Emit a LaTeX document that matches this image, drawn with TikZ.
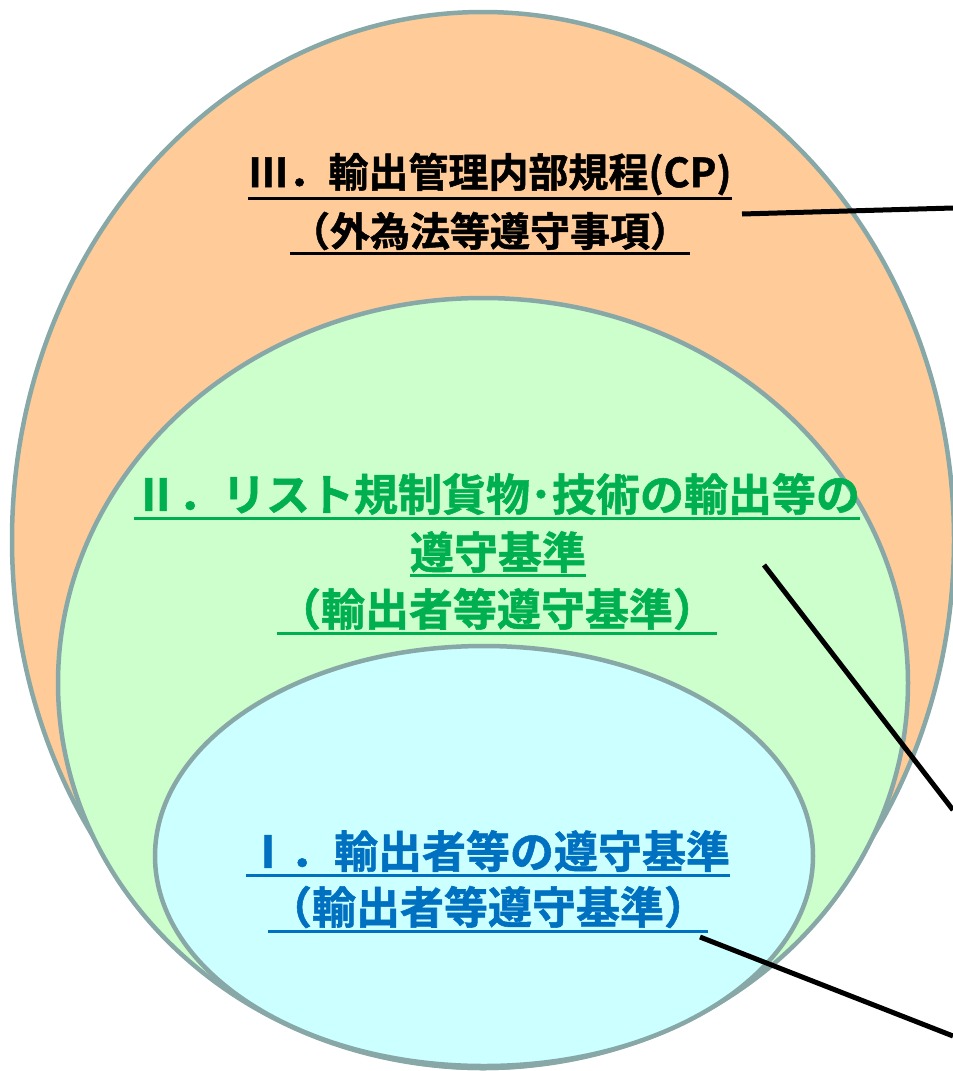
\documentclass[tikz,border=0pt]{standalone}
\usepackage{fontspec}
\newfontfamily\cjk[BoldFont={Noto Sans CJK JP Bold},BoldFeatures={FakeBold=1.2}]{Noto Sans CJK JP}
\definecolor{rim}{HTML}{88A8A8}
\definecolor{orangefill}{HTML}{FFCC99}
\definecolor{greenfill}{HTML}{CCFFCC}
\definecolor{bluefill}{HTML}{CCFFFF}
\definecolor{greentext}{HTML}{00B050}
\definecolor{bluetext}{HTML}{0070C0}
\begin{document}
\begin{tikzpicture}[x=1pt,y=-1pt,
  zone/.style={draw=rim,line width=4.5pt},
  label/.style={inner sep=0pt,font=\cjk\bfseries\fontsize{44}{44}\selectfont},
  blk/.style={font=\cjk\bfseries\fontsize{40}{40}\selectfont},
  uline/.style={line width=3pt},
  pointer/.style={draw=black,line width=5pt}]
\useasboundingbox (0,0) rectangle (953,1071);
% ellipses
\draw[zone,fill=orangefill] (483,540) ellipse [x radius=471,y radius=528];
\draw[zone,fill=greenfill] (483,683) ellipse [x radius=425,y radius=385];
\draw[zone,fill=bluefill] (484,856) ellipse [x radius=329,y radius=210];
% texts
\node[label,blk,text=black] (t3a) at (490,174) {Ⅲ．輸出管理内部規程(CP)};
\node[label,blk,text=black] (t3b) at (490,231) {（外為法等遵守事項）};
\node[label,text=greentext] (t2a) at (497,494) {Ⅱ．リスト規制貨物･技術の輸出等の};
\node[label,text=greentext] (t2b) at (498,552) {遵守基準};
\node[label,text=greentext] (t2c) at (497,609) {（輸出者等遵守基準）};
\node[label,text=bluetext] (t1a) at (488,851) {Ⅰ．輸出者等の遵守基準};
\node[label,text=bluetext] (t1b) at (488,907) {（輸出者等遵守基準）};
% underlines
\draw[uline,black] ([yshift=-3pt]t3a.south west) -- ([yshift=-3pt]t3a.south east);
\draw[uline,black] ([yshift=-3pt]t3b.south west) -- ([yshift=-3pt]t3b.south east);
\draw[uline,greentext] ([yshift=-3pt]t2a.south west) -- ([yshift=-3pt]t2a.south east);
\draw[uline,greentext] ([yshift=-3pt]t2b.south west) -- ([yshift=-3pt]t2b.south east);
\draw[uline,greentext] ([yshift=-3pt]t2c.south west) -- ([yshift=-3pt]t2c.south east);
\draw[uline,bluetext] ([yshift=-3pt]t1a.south west) -- ([yshift=-3pt]t1a.south east);
\draw[uline,bluetext] ([yshift=-3pt]t1b.south west) -- ([yshift=-3pt]t1b.south east);
% connectors
\coordinate (p3) at (742,214);
\coordinate (e3) at (953,208);
\coordinate (p2) at (764,565);
\coordinate (e2) at (953,810);
\coordinate (p1) at (700,937);
\coordinate (e1) at (953,1036);
\draw[pointer] (p3) -- (e3);
\draw[pointer] (p2) -- (e2);
\draw[pointer] (p1) -- (e1);
\end{tikzpicture}
\end{document}
